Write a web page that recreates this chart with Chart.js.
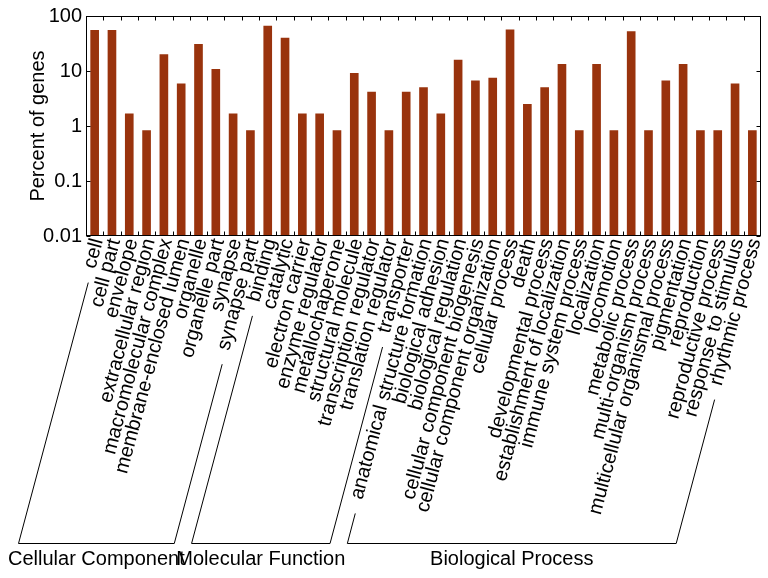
<!DOCTYPE html>
<html>
<head>
<meta charset="utf-8">
<script src="https://cdn.jsdelivr.net/npm/chart.js@4.4.1/dist/chart.umd.min.js"></script>
<style>
  html, body { margin: 0; padding: 0; background: #fff; }
  #wrap { width: 768px; height: 578px; }
</style>
</head>
<body>
<div id="wrap"><canvas id="myChart"></canvas></div>
<script>
const categories = [
  'cell', 'cell part', 'envelope', 'extracellular region', 'macromolecular complex',
  'membrane-enclosed lumen', 'organelle', 'organelle part', 'synapse', 'synapse part',
  'binding', 'catalytic', 'electron carrier', 'enzyme regulator', 'metallochaperone',
  'structural molecule', 'transcription regulator', 'translation regulator', 'transporter',
  'anatomical structure formation', 'biological adhesion', 'biological regulation',
  'cellular component biogenesis', 'cellular component organization', 'cellular process',
  'death', 'developmental process', 'establishment of localization', 'immune system process',
  'localization', 'locomotion', 'metabolic process', 'multi-organism process',
  'multicellular organismal process', 'pigmentation', 'reproduction', 'reproductive process',
  'response to stimulus', 'rhythmic process'
];
const percentGenes = [
  55.5, 55.5, 1.68, 0.84, 20.2, 5.9, 31.1, 10.9, 1.68, 0.84,
  66.4, 40.3, 1.68, 1.68, 0.84, 9.24, 4.2, 0.84, 4.2,
  5.04, 1.68, 16.0, 6.72, 7.56, 57.1, 2.52, 5.04, 13.4, 0.84,
  13.4, 0.84, 52.9, 0.84, 6.72, 13.4, 0.84, 0.84, 5.9, 0.84
];
const groupNames = ['Cellular Component', 'Molecular Function', 'Biological Process'];
const groupFirst = [0, 10, 19];
const groupLast = [9, 18, 38];
const yTicks = [0.01, 0.1, 1, 10, 100];

const FONT = '"Liberation Sans", Arial, Helvetica, sans-serif';
const ROT = 75;
const LABEL_PAD = 0;

// box round the plot with inward ticks, like the original figure
const framePlugin = {
  id: 'frame',
  afterDatasetsDraw(chart) {
    const {ctx, chartArea: a, scales: {x, y}} = chart;
    const L = Math.round(a.left) + 0.5, R = Math.round(a.right) - 0.5;
    const T = Math.round(a.top) + 0.5, B = Math.round(a.bottom) - 0.5;
    ctx.save();
    ctx.strokeStyle = '#000';
    ctx.lineWidth = 1;
    ctx.strokeRect(L, T, R - L, B - T);
    ctx.beginPath();
    for (let i = 0; i < categories.length - 1; i++) {
      const bx = Math.round((x.getPixelForValue(i) + x.getPixelForValue(i + 1)) / 2) + 0.5;
      ctx.moveTo(bx, T); ctx.lineTo(bx, T + 4);
      ctx.moveTo(bx, B); ctx.lineTo(bx, B - 4);
    }
    yTicks.forEach(v => {
      const py = Math.round(y.getPixelForValue(v)) + 0.5;
      ctx.moveTo(L, py); ctx.lineTo(L + 4, py);
      ctx.moveTo(R, py); ctx.lineTo(R - 4, py);
    });
    ctx.stroke();
    ctx.restore();
  }
};

// slanted brackets that group the labels
const bracketPlugin = {
  id: 'brackets',
  afterDraw(chart) {
    const {ctx, scales: {x}} = chart;
    const th = ROT * Math.PI / 180, c = Math.cos(th), s = Math.sin(th);
    const y0 = x.top + 6;
    const baseY = chart.height - 35;
    ctx.save();
    ctx.font = '20px ' + FONT;
    ctx.strokeStyle = '#000';
    ctx.lineWidth = 1;
    const edge = i => {
      const ax = x.getPixelForValue(i) + 4.5;
      const w = ctx.measureText(categories[i]).width + 12;
      return {sx: ax - w * c, sy: y0 + w * s, ex: ax - (baseY - y0) / s * c};
    };
    groupNames.forEach((name, g) => {
      const l = edge(groupFirst[g]), r = edge(groupLast[g]);
      ctx.beginPath();
      ctx.moveTo(l.sx, l.sy);
      ctx.lineTo(l.ex, baseY + 0.5);
      ctx.lineTo(r.ex, baseY + 0.5);
      ctx.lineTo(r.sx, r.sy);
      ctx.stroke();
      ctx.fillStyle = '#000';
      ctx.textAlign = 'center';
      ctx.textBaseline = 'alphabetic';
      ctx.fillText(name, (l.ex + r.ex) / 2, baseY + 22);
    });
    ctx.restore();
  }
};

let ctx = document.getElementById('myChart').getContext('2d');
let chart = new Chart(ctx, {
  type: 'bar',
  data: {
    labels: categories,
    datasets: [{
      data: percentGenes,
      backgroundColor: 'rgb(153, 51, 13)',
      borderWidth: 0,
      barPercentage: 0.5,
      categoryPercentage: 1.0
    }]
  },
  options: {
    responsive: true,
    maintainAspectRatio: false,
    animation: false,
    layout: { padding: { top: 12, right: 7, left: 0, bottom: 0 } },
    plugins: { legend: { display: false }, tooltip: { enabled: false } },
    scales: {
      x: {
        grid: { display: false, drawTicks: false },
        border: { display: false },
        ticks: {
          autoSkip: false,
          minRotation: ROT,
          maxRotation: ROT,
          padding: LABEL_PAD,
          labelOffset: 3,
          color: '#000',
          font: { family: FONT, size: 20 }
        },
        afterFit: s => {
          s.height = 578 - 236;
          s.paddingLeft = 0;
          s.paddingRight = 0;
        }
      },
      y: {
        type: 'logarithmic',
        min: 0.01,
        max: 100,
        grid: { display: false, drawTicks: false },
        border: { display: false },
        afterBuildTicks: s => { s.ticks = yTicks.map(v => ({value: v})); },
        afterFit: s => { s.width = 86; },
        ticks: {
          padding: 4,
          color: '#000',
          font: { family: FONT, size: 20 },
          callback: v => String(v)
        },
        title: {
          display: true,
          text: 'Percent of genes',
          color: '#000',
          font: { family: FONT, size: 20 },
          padding: { top: 26, bottom: 0 }
        }
      }
    }
  },
  plugins: [framePlugin, bracketPlugin]
});
</script>
</body>
</html>
